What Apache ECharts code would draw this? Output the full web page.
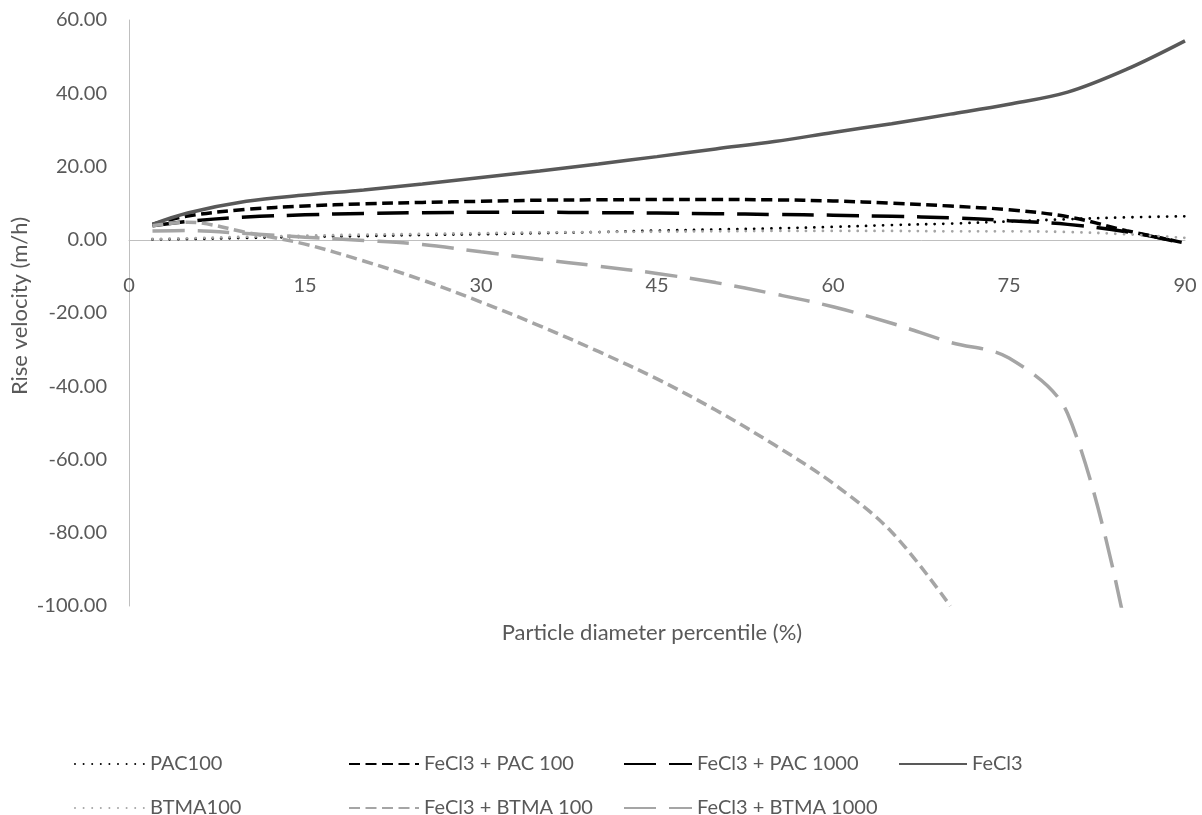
<!DOCTYPE html>
<html>
<head>
<meta charset="utf-8">
<script src="https://cdn.jsdelivr.net/npm/echarts@6/dist/echarts.min.js"></script>
<style>
html,body{margin:0;padding:0;background:#fff;}
#chart{width:1202px;height:815px;}
</style>
</head>
<body>
<div id="chart"></div>
<script>
// Particle diameter percentile (%)
const percentiles = [2, 5, 10, 15, 20, 25, 30, 35, 40, 45, 50, 55, 60, 65, 70, 75, 80, 85, 90];
// Rise velocity (m/h) per series
const pac100        = [0.1, 0.2, 0.5, 0.8, 1.0, 1.3, 1.5, 1.8, 2.1, 2.5, 2.8, 3.1, 3.5, 4.0, 4.4, 5.0, 5.6, 6.1, 6.4];
const fecl3Pac100   = [4.2, 6.5, 8.3, 9.2, 9.8, 10.2, 10.5, 10.8, 10.9, 11.0, 11.0, 10.9, 10.6, 10.0, 9.2, 8.2, 6.3, 2.5, -0.9];
const fecl3Pac1000  = [3.8, 5.0, 6.2, 6.8, 7.2, 7.4, 7.5, 7.5, 7.4, 7.3, 7.1, 6.9, 6.7, 6.4, 6.0, 5.2, 4.2, 2.2, -1.0];
const fecl3         = [4.2, 7.3, 10.5, 12.2, 13.6, 15.2, 17.0, 18.8, 20.7, 22.7, 24.8, 26.8, 29.3, 31.7, 34.3, 37.0, 40.3, 46.5, 54.3];
const btma100       = [0.2, 0.4, 0.8, 1.1, 1.4, 1.6, 1.8, 2.0, 2.1, 2.2, 2.3, 2.4, 2.4, 2.4, 2.3, 2.3, 2.1, 1.5, 0.5];
const fecl3Btma100  = [3.8, 4.8, 2.0, -1.2, -5.8, -11.0, -17.0, -23.5, -30.5, -38.0, -46.5, -56.0, -66.5, -79.8, -100, null, null, null, null];
const fecl3Btma1000 = [2.4, 2.5, 1.7, 0.7, -0.2, -1.3, -3.3, -5.3, -7.2, -9.2, -11.7, -14.8, -18.3, -22.8, -28.0, -32.3, -47.5, -107, null];

const seriesNames = ['PAC100', 'FeCl3 + PAC 100', 'FeCl3 + PAC 1000', 'FeCl3', 'BTMA100', 'FeCl3 + BTMA 100', 'FeCl3 + BTMA 1000'];
const xTicks = [0, 15, 30, 45, 60, 75, 90];
const xTitle = 'Particle diameter percentile (%)';
const yTitle = 'Rise velocity (m/h)';

const FONT = 'Lato';
const TXT = '#595959';
const GRAY = '#A5A5A5';

function pairs(vals) { return percentiles.map((x, i) => [x, vals[i]]); }

const styles = [
  { color: '#000000', width: 2.8, type: [0, 8.6], cap: 'round' },
  { color: '#000000', width: 3.5, type: [11, 5.5], cap: 'butt' },
  { color: '#000000', width: 3.5, type: [32, 13], cap: 'butt' },
  { color: '#595959', width: 3.5, type: 'solid', cap: 'butt' },
  { color: GRAY, width: 2.8, type: [0, 8.6], cap: 'round' },
  { color: GRAY, width: 3.5, type: [11, 5.5], cap: 'butt' },
  { color: GRAY, width: 3.5, type: [32, 13], cap: 'butt' }
];
const dataSets = [pac100, fecl3Pac100, fecl3Pac1000, fecl3, btma100, fecl3Btma100, fecl3Btma1000];

const legendPos = [
  { left: 74, top: 754, w: 70 },
  { left: 348, top: 754, w: 70 },
  { left: 623, top: 754, w: 68 },
  { left: 898, top: 754, w: 68 },
  { left: 74, top: 798, w: 70 },
  { left: 348, top: 798, w: 70 },
  { left: 623, top: 798, w: 68 }
];

const GRID = { left: 129, right: 17, top: 20, bottom: 209 };

const chart = echarts.init(document.getElementById('chart'), null, { renderer: 'canvas' });
const option = {
  backgroundColor: '#ffffff',
  animation: false,
  textStyle: { fontFamily: FONT },
  grid: Object.assign({ containLabel: false }, GRID),
  xAxis: {
    type: 'value', min: 0, max: 90, interval: 15,
    position: 'bottom', offset: 0,
    axisLine: { show: true, onZero: false, lineStyle: { color: '#BFBFBF', width: 1 } },
    axisTick: { show: false },
    splitLine: { show: false },
    axisLabel: { color: TXT, fontSize: 20, fontFamily: FONT, margin: 36,
      customValues: xTicks, formatter: v => String(v) }
  },
  yAxis: {
    type: 'value', min: -100, max: 60, interval: 20,
    axisLine: { show: true, lineStyle: { color: '#BFBFBF', width: 1 } },
    axisTick: { show: false },
    splitLine: { show: false },
    axisLabel: { color: TXT, fontSize: 20, fontFamily: FONT, margin: 22,
      formatter: v => v.toFixed(2) }
  },
  legend: legendPos.map((p, i) => ({
    data: [seriesNames[i]],
    left: p.left, top: p.top, padding: 0,
    itemWidth: p.w, itemHeight: 14,
    selectedMode: false,
    itemStyle: { opacity: 0 },
    textStyle: { color: TXT, fontSize: 20, fontFamily: FONT }
  })),
  graphic: [
    { type: 'text', x: 652, y: 633, style: { text: xTitle, fill: TXT, font: '22px ' + FONT, textAlign: 'center', textVerticalAlign: 'middle' } },
    { type: 'text', x: 20, y: 306, rotation: Math.PI / 2, style: { text: yTitle, fill: TXT, font: '22px ' + FONT, textAlign: 'center', textVerticalAlign: 'middle' } }
  ],
  series: dataSets.map((vals, i) => ({
    name: seriesNames[i],
    type: 'line',
    data: pairs(vals),
    smooth: 0.35,
    symbol: 'none',
    showSymbol: false,
    clip: true,
    connectNulls: false,
    color: styles[i].color,
    lineStyle: { color: styles[i].color, width: styles[i].width, type: styles[i].type, cap: styles[i].cap }
  }))
};
chart.setOption(option);

// Move the x axis (line + labels) up to the y = 0 position, using the library's own y scale.
const zeroY = chart.convertToPixel({ yAxisIndex: 0 }, 0);
const bottomY = 815 - GRID.bottom;
chart.setOption({ xAxis: { offset: -(bottomY - zeroY) } });
</script>
</body>
</html>
